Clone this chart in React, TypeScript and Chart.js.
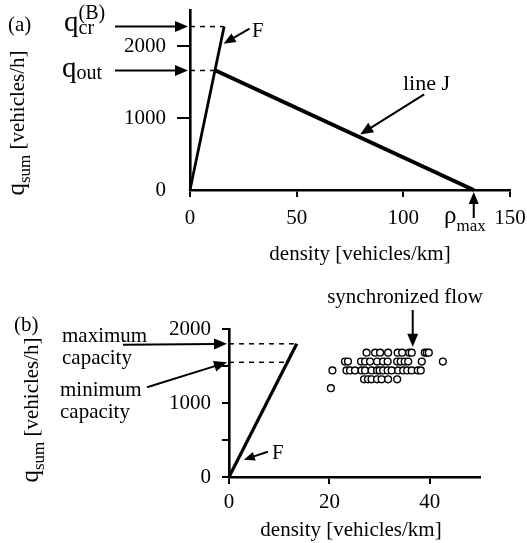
import React, { useEffect, useRef } from 'react';
import { Chart, registerables } from 'chart.js';
Chart.register(...registerables);

const FONT = "'Liberation Serif', 'Times New Roman', Times, serif";

// ---------- Panel (a) data ----------
const A_X_TICKS = [0, 50, 100, 150];
const A_Y_TICKS = [0, 1000, 2000];
const A_X_MAX = 150;
const A_Y_MAX = 2500;
const A_Q_CR = 2270;
const A_Q_OUT = 1660;
const A_F_DENSITY = [0, 16];
const A_F_FLOW = [0, 2270];
const A_J_DENSITY = [12, 133];
const A_J_FLOW = [1660, 0];
const A_RHO_MAX = 133;

// ---------- Panel (b) data ----------
const B_X_TICKS = [0, 20, 40];
const B_Y_TICKS = [0, 500, 1000, 1500, 2000];
const B_Y_LABELED = [0, 1000, 2000];
const B_X_MAX = 50;
const B_Y_MAX = 2000;
const B_MAX_CAP = 1800;
const B_MIN_CAP = 1550;
const B_F_DENSITY = [0, 13.5];
const B_F_FLOW = [0, 1800];
const SYNC_ROW_FLOWS = [1680, 1560, 1440, 1320, 1200];
const SYNC_1680 = [27.4, 29.1, 30.1, 31.7, 33.6, 34.5, 35.9, 36.4, 39.0, 39.4, 39.8];
const SYNC_1560 = [23.1, 23.7, 26.3, 27.1, 28.1, 29.5, 30.7, 31.6, 33.5, 34.2, 35.0, 35.7, 38.4, 42.6];
const SYNC_1440 = [20.6, 23.4, 24.1, 25.1, 26.4, 27.1, 28.4, 29.5, 30.0, 30.7, 31.6, 32.4, 33.7, 34.7, 35.5, 36.4, 37.6, 38.2];
const SYNC_1320 = [26.9, 27.7, 28.4, 29.5, 30.4, 31.7, 33.5];
const SYNC_1200 = [20.3];
const SYNC_ROWS = [SYNC_1680, SYNC_1560, SYNC_1440, SYNC_1320, SYNC_1200];

type Part = { t: string; size: number; dy?: number; stack?: boolean };

function font(size: number) {
  return `${size}px ${FONT}`;
}

function rich(ctx: CanvasRenderingContext2D, x: number, y: number, parts: Part[], align: 'left' | 'center' = 'left') {
  ctx.textBaseline = 'alphabetic';
  ctx.textAlign = 'left';
  const widths: number[] = [];
  parts.forEach((p) => {
    ctx.font = font(p.size);
    widths.push(ctx.measureText(p.t).width);
  });
  let cx = 0;
  let prevStart = 0;
  const starts: number[] = [];
  parts.forEach((p, i) => {
    if (p.stack) {
      starts.push(prevStart);
      cx = Math.max(cx, prevStart + widths[i]);
    } else {
      starts.push(cx);
      prevStart = cx;
      cx += widths[i];
    }
  });
  const total = cx;
  const ox = align === 'center' ? x - total / 2 : x;
  parts.forEach((p, i) => {
    ctx.font = font(p.size);
    ctx.fillText(p.t, ox + starts[i], y + (p.dy || 0));
  });
}

function arrow(ctx: CanvasRenderingContext2D, x1: number, y1: number, x2: number, y2: number, head = 13, half = 5.5, lw = 2) {
  const ang = Math.atan2(y2 - y1, x2 - x1);
  const bx = x2 - head * Math.cos(ang);
  const by = y2 - head * Math.sin(ang);
  ctx.lineWidth = lw;
  ctx.beginPath();
  ctx.moveTo(x1, y1);
  ctx.lineTo(bx + Math.cos(ang) * 2, by + Math.sin(ang) * 2);
  ctx.stroke();
  ctx.beginPath();
  ctx.moveTo(x2, y2);
  ctx.lineTo(bx + half * Math.sin(ang), by - half * Math.cos(ang));
  ctx.lineTo(bx - half * Math.sin(ang), by + half * Math.cos(ang));
  ctx.closePath();
  ctx.fill();
}

function yTitle(ctx: CanvasRenderingContext2D, xBase: number, yCenter: number) {
  ctx.save();
  ctx.translate(xBase, yCenter);
  ctx.rotate(-Math.PI / 2);
  rich(ctx, 0, 0, [
    { t: 'q', size: 25 },
    { t: 'sum', size: 17, dy: 6 },
    { t: ' [vehicles/h]', size: 21 },
  ], 'center');
  ctx.restore();
}

const A_TOP = 0;
const A_H = 272;
const B_TOP = 272;
const B_H = 543 - 272;

const annotA = {
  id: 'annotA',
  afterDraw(chart: any) {
    const { ctx } = chart;
    const xs = chart.scales.x;
    const ys = chart.scales.y;
    const px = (v: number) => xs.getPixelForValue(v);
    const py = (v: number) => ys.getPixelForValue(v) + A_TOP;
    const x0 = px(0);
    const yb = py(0);
    ctx.save();
    ctx.translate(0, -A_TOP);
    ctx.fillStyle = '#000';
    ctx.strokeStyle = '#000';
    rich(ctx, 8, 31, [{ t: '(a)', size: 21 }]);
    // q_cr^(B)
    rich(ctx, 64, 31, [
      { t: 'q', size: 29 },
      { t: 'cr', size: 20, dy: 3 },
      { t: '(B)', size: 20, dy: -12, stack: true },
    ]);
    const yCr = py(A_Q_CR);
    arrow(ctx, 115, yCr, x0 - 2, yCr);
    // q_out
    rich(ctx, 62, 77, [
      { t: 'q', size: 29 },
      { t: 'out', size: 20, dy: 2 },
    ]);
    const yOut = py(A_Q_OUT);
    arrow(ctx, 115, yOut, x0 - 2, yOut);
    // F label
    const fT = 0.895;
    const fx = px(A_F_DENSITY[0] + (A_F_DENSITY[1] - A_F_DENSITY[0]) * fT) + 3;
    const fy = py(A_F_FLOW[0] + (A_F_FLOW[1] - A_F_FLOW[0]) * fT);
    arrow(ctx, fx + 26, fy - 15, fx, fy, 12, 5);
    rich(ctx, 252, 37, [{ t: 'F', size: 21 }]);
    // line J
    const jT = 0.56;
    const jx = px(A_J_DENSITY[0] + (A_J_DENSITY[1] - A_J_DENSITY[0]) * jT);
    const jy = py(A_J_FLOW[0] + (A_J_FLOW[1] - A_J_FLOW[0]) * jT) - 3;
    arrow(ctx, jx + 64, jy - 40, jx, jy, 13, 5.5);
    rich(ctx, 403, 90, [{ t: 'line J', size: 22 }]);
    // rho max
    const rx = px(A_RHO_MAX);
    arrow(ctx, rx, yb + 28, rx, yb + 2, 12, 5);
    rich(ctx, 444, 223, [
      { t: 'ρ', size: 25 },
      { t: 'max', size: 17, dy: 8 },
    ]);
    // axis titles
    rich(ctx, 360, 260, [{ t: 'density [vehicles/km]', size: 21 }], 'center');
    yTitle(ctx, 24, 123);
    ctx.restore();
  },
};

const annotB = {
  id: 'annotB',
  afterDraw(chart: any) {
    const { ctx } = chart;
    const xs = chart.scales.x;
    const ys = chart.scales.y;
    const px = (v: number) => xs.getPixelForValue(v);
    const py = (v: number) => ys.getPixelForValue(v) + B_TOP;
    const x0 = px(0);
    ctx.save();
    ctx.translate(0, -B_TOP);
    ctx.fillStyle = '#000';
    ctx.strokeStyle = '#000';
    rich(ctx, 14, 331, [{ t: '(b)', size: 21 }]);
    rich(ctx, 62, 342, [{ t: 'maximum', size: 21 }]);
    rich(ctx, 62, 364, [{ t: 'capacity', size: 21 }]);
    rich(ctx, 60, 396, [{ t: 'minimum', size: 21 }]);
    rich(ctx, 60, 418, [{ t: 'capacity', size: 21 }]);
    const yMax = py(B_MAX_CAP);
    arrow(ctx, 123, yMax + 1, x0 - 2, yMax);
    const yMin = py(B_MIN_CAP);
    arrow(ctx, 147, yMin + 25, x0 - 2, yMin);
    // synchronized flow
    rich(ctx, 405, 303, [{ t: 'synchronized flow', size: 21 }], 'center');
    const sx = px(36.6);
    const sy = py(SYNC_ROW_FLOWS[0]) - 6;
    arrow(ctx, sx, 310, sx, sy, 13, 5.5);
    // F
    const fT = 0.13;
    const fx = px(B_F_DENSITY[0] + (B_F_DENSITY[1] - B_F_DENSITY[0]) * fT) + 6;
    const fy = py(B_F_FLOW[0] + (B_F_FLOW[1] - B_F_FLOW[0]) * fT);
    arrow(ctx, fx + 24, fy - 8, fx, fy, 11, 4.5);
    rich(ctx, 272, 459, [{ t: 'F', size: 21 }]);
    // titles
    rich(ctx, 351, 536, [{ t: 'density [vehicles/km]', size: 21 }], 'center');
    yTitle(ctx, 38, 410);
    ctx.restore();
  },
};

function pts(xsArr: number[], ysArr: number[]) {
  return xsArr.map((x, i) => ({ x, y: ysArr[i] }));
}

function lineDs(data: any[], width: number, dash?: number[]) {
  return {
    data,
    showLine: true,
    borderColor: '#000',
    backgroundColor: '#000',
    borderWidth: width,
    borderDash: dash || [],
    pointRadius: 0,
    clip: false as any,
    borderCapStyle: 'butt',
  };
}

function axisCommon(tickVals: number[], tickLen: number, pad: number, fixSize: (s: any) => void, gridColor?: any, cb?: (v: number) => string) {
  return {
    type: 'linear' as const,
    afterBuildTicks: (s: any) => {
      s.ticks = tickVals.map((v) => ({ value: v }));
    },
    afterFit: (s: any) => {
      fixSize(s);
      s.paddingTop = 0;
      s.paddingBottom = 0;
      s.paddingLeft = 0;
      s.paddingRight = 0;
    },
    ticks: {
      autoSkip: false,
      maxRotation: 0,
      minRotation: 0,
      padding: pad,
      color: '#000',
      font: { family: FONT, size: 21 },
      callback: cb || ((v: any) => String(v)),
    },
    grid: {
      display: true,
      drawOnChartArea: false,
      drawTicks: true,
      tickLength: tickLen,
      color: gridColor || '#000',
      lineWidth: 2,
    },
    border: { display: true, color: '#000', width: 2.6 },
  };
}

export default function App() {
  const refA = useRef<HTMLCanvasElement>(null);
  const refB = useRef<HTMLCanvasElement>(null);

  useEffect(() => {
    const chartA = new Chart(refA.current as HTMLCanvasElement, {
      type: 'scatter',
      data: {
        datasets: [
          lineDs(pts(A_F_DENSITY, A_F_FLOW), 2.8),
          lineDs(pts(A_J_DENSITY, A_J_FLOW), 4),
          lineDs([{ x: 0, y: A_Q_CR }, { x: A_F_DENSITY[1], y: A_Q_CR }], 1.5, [5, 5]),
          lineDs([{ x: 0, y: A_Q_OUT }, { x: A_J_DENSITY[0], y: A_Q_OUT }], 1.5, [5, 5]),
        ] as any,
      },
      options: {
        animation: false,
        responsive: false,
        events: [],
        layout: { padding: { top: 10, right: 17, left: 0, bottom: 0 } },
        plugins: { legend: { display: false }, tooltip: { enabled: false } },
        scales: {
          x: {
            ...axisCommon(A_X_TICKS, 7, 9, (s) => { s.height = A_H - 190 - A_TOP; }),
            min: 0,
            max: A_X_MAX,
          },
          y: {
            ...axisCommon(A_Y_TICKS, 13, 11, (s) => { s.width = 190; },
              (c: any) => (c.tick && c.tick.value === 0 ? 'rgba(0,0,0,0)' : '#000')),
            min: 0,
            max: A_Y_MAX,
          },
        } as any,
      },
      plugins: [annotA],
    });

    const scatterData: { x: number; y: number }[] = [];
    SYNC_ROWS.forEach((row, i) => {
      row.forEach((d) => scatterData.push({ x: d, y: SYNC_ROW_FLOWS[i] }));
    });

    const chartB = new Chart(refB.current as HTMLCanvasElement, {
      type: 'scatter',
      data: {
        datasets: [
          {
            data: scatterData,
            pointRadius: 3.4,
            borderWidth: 1.4,
            borderColor: '#000',
            backgroundColor: '#fff',
            pointStyle: 'circle',
            clip: false as any,
          },
          lineDs(pts(B_F_DENSITY, B_F_FLOW), 3.2),
          lineDs([{ x: 0, y: B_MAX_CAP }, { x: B_F_DENSITY[1], y: B_MAX_CAP }], 1.5, [5, 5]),
          lineDs([{ x: 0, y: B_MIN_CAP }, { x: (B_F_DENSITY[1] * B_MIN_CAP) / B_F_FLOW[1], y: B_MIN_CAP }], 1.5, [5, 5]),
        ] as any,
      },
      options: {
        animation: false,
        responsive: false,
        events: [],
        layout: { padding: { top: 329 - B_TOP, right: 527 - 480, left: 0, bottom: 0 } },
        plugins: { legend: { display: false }, tooltip: { enabled: false } },
        scales: {
          x: {
            ...axisCommon(B_X_TICKS, 7, 6, (s) => { s.height = B_H - (477 - B_TOP); }),
            min: 0,
            max: B_X_MAX,
          },
          y: {
            ...axisCommon(B_Y_TICKS, 7, 11, (s) => { s.width = 229; }, undefined,
              (v: number) => (B_Y_LABELED.includes(v) ? String(v) : '')),
            min: 0,
            max: B_Y_MAX,
          },
        } as any,
      },
      plugins: [annotB],
    });

    return () => {
      chartA.destroy();
      chartB.destroy();
    };
  }, []);

  return (
    <div style={{ position: 'absolute', left: 0, top: 0, width: 527, height: 543, background: '#fff' }}>
      <canvas
        ref={refA}
        width={527}
        height={A_H}
        style={{ position: 'absolute', left: 0, top: A_TOP, width: 527, height: A_H }}
      />
      <canvas
        ref={refB}
        width={527}
        height={B_H}
        style={{ position: 'absolute', left: 0, top: B_TOP, width: 527, height: B_H }}
      />
    </div>
  );
}
